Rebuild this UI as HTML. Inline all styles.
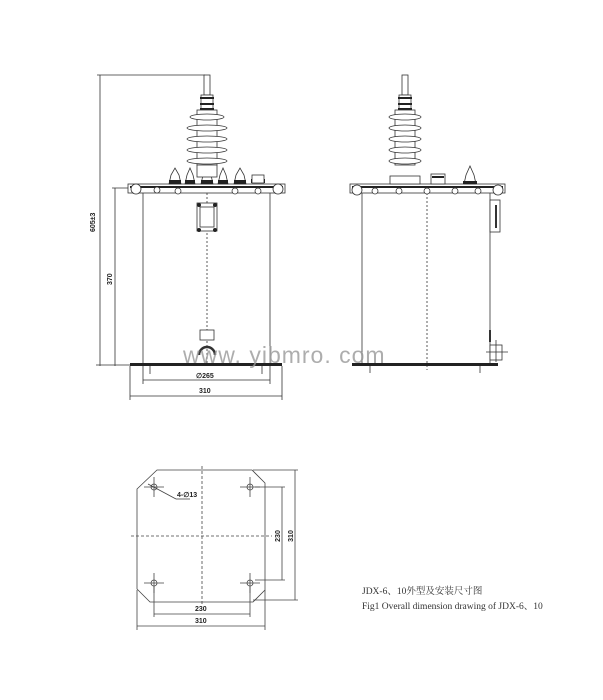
<!DOCTYPE html>
<html><head><meta charset="utf-8"><style>body{margin:0;background:#fff}svg{display:block}</style></head><body>
<svg width="603" height="700" viewBox="0 0 603 700" xmlns="http://www.w3.org/2000/svg" font-family="Liberation Sans, sans-serif">
<rect width="603" height="700" fill="#fff"/>
<g id="left" stroke="#333" fill="none" stroke-width="0.8">
 <line x1="100" y1="75" x2="100" y2="366"/><line x1="97" y1="75" x2="205" y2="75"/>
 <line x1="115" y1="188" x2="115" y2="366"/><line x1="112" y1="188" x2="130" y2="188"/>
 <line x1="96" y1="365" x2="130" y2="365"/>
 <line x1="143" y1="366" x2="143" y2="384"/><line x1="270" y1="366" x2="270" y2="384"/>
 <line x1="143" y1="380" x2="270" y2="380"/>
 <line x1="130" y1="366" x2="130" y2="400"/><line x1="282" y1="366" x2="282" y2="400"/>
 <line x1="130" y1="396" x2="282" y2="396"/>
 <line x1="143" y1="193" x2="143" y2="364"/><line x1="270" y1="193" x2="270" y2="364"/>
 <line x1="207" y1="193" x2="207" y2="364" stroke-dasharray="2,2"/>
 <rect x="128" y="184" width="157" height="9" fill="#fff"/>
 <rect x="130" y="186" width="153" height="2" fill="#222" stroke="none"/>
 <line x1="150" y1="366" x2="150" y2="374"/><line x1="262" y1="366" x2="262" y2="374"/>
 <g fill="#fff"><circle cx="136" cy="189" r="5"/><circle cx="278" cy="189" r="5"/><circle cx="157" cy="190" r="3"/><circle cx="178" cy="191" r="3"/><circle cx="235" cy="191" r="3"/><circle cx="258" cy="191" r="3"/></g>
 <g fill="#fff">
  <path d="M169 184 L171 175 L175 168 L179 175 L181 184 Z"/><path d="M185 184 L187 175 L190 168 L193 175 L195 184 Z"/>
  <path d="M201 184 L203 175 L207 168 L211 175 L213 184 Z"/><path d="M218 184 L220 175 L223 168 L226 175 L228 184 Z"/>
  <path d="M234 184 L236 175 L240 168 L244 175 L246 184 Z"/>
 </g>
 <g fill="#222" stroke="none"><rect x="169" y="180" width="12" height="4"/><rect x="185" y="180" width="10" height="4"/><rect x="201" y="180" width="12" height="4"/><rect x="218" y="180" width="10" height="4"/><rect x="234" y="180" width="12" height="4"/><rect x="251" y="179" width="14" height="4"/></g>
 <rect x="252" y="175" width="12" height="8" fill="#fff"/>
 <rect x="204" y="75" width="6" height="20" fill="#fff"/>
 <rect x="201" y="95" width="12" height="15" fill="#fff"/>
 <g fill="#222" stroke="none"><rect x="200" y="97" width="14" height="2"/><rect x="200" y="103" width="14" height="2"/><rect x="200" y="108" width="14" height="2"/></g>
 <rect x="197" y="110" width="20" height="55" fill="#fff"/>
 <g fill="#fff"><ellipse cx="207" cy="117" rx="17" ry="3"/><ellipse cx="207" cy="128" rx="20" ry="3"/><ellipse cx="207" cy="139" rx="20" ry="3"/><ellipse cx="207" cy="150" rx="20" ry="3"/><ellipse cx="207" cy="161" rx="20" ry="3"/></g>
 <rect x="197" y="165" width="20" height="12" fill="#fff"/>
 <rect x="197" y="203" width="20" height="28" fill="#fff"/><rect x="200" y="207" width="14" height="20"/>
 <g fill="#222" stroke="none"><circle cx="199" cy="205" r="2"/><circle cx="215" cy="205" r="2"/><circle cx="199" cy="230" r="2"/><circle cx="215" cy="230" r="2"/></g>
 <rect x="200" y="330" width="14" height="10" fill="#fff"/>
 <path d="M199 355 A8 8 0 0 1 215 355" stroke-width="2.5"/>
</g>
<rect x="130" y="363" width="152" height="3" fill="#222"/>
<g font-size="7" fill="#222" font-weight="bold">
 <text x="95" y="232" transform="rotate(-90 95 232)">605±3</text>
 <text x="112" y="285" transform="rotate(-90 112 285)">370</text>
 <text x="196" y="378">∅265</text>
 <text x="199" y="393">310</text>
</g>
<g stroke="#333" fill="none" stroke-width="0.8">
 <line x1="362" y1="193" x2="362" y2="364"/><line x1="490" y1="193" x2="490" y2="364"/>
 <line x1="427" y1="193" x2="427" y2="370" stroke-dasharray="2,2"/>
 <rect x="350" y="184" width="155" height="9" fill="#fff"/>
 <rect x="352" y="186" width="151" height="2" fill="#222" stroke="none"/>
 <g fill="#fff"><circle cx="357" cy="190" r="5"/><circle cx="498" cy="190" r="5"/><circle cx="375" cy="191" r="3"/><circle cx="399" cy="191" r="3"/><circle cx="427" cy="191" r="3"/><circle cx="455" cy="191" r="3"/><circle cx="478" cy="191" r="3"/></g>
 <rect x="402" y="75" width="6" height="20" fill="#fff"/>
 <rect x="399" y="95" width="12" height="15" fill="#fff"/>
 <g fill="#222" stroke="none"><rect x="398" y="97" width="14" height="2"/><rect x="398" y="103" width="14" height="2"/><rect x="398" y="108" width="14" height="2"/></g>
 <rect x="395" y="110" width="20" height="55" fill="#fff"/>
 <g fill="#fff"><ellipse cx="405" cy="117" rx="16" ry="3"/><ellipse cx="405" cy="128" rx="16" ry="3"/><ellipse cx="405" cy="139" rx="16" ry="3"/><ellipse cx="405" cy="150" rx="16" ry="3"/><ellipse cx="405" cy="161" rx="16" ry="3"/></g>
 <rect x="390" y="176" width="30" height="8" fill="#fff"/>
 <rect x="431" y="174" width="14" height="10" fill="#fff"/><rect x="432" y="176" width="12" height="2" fill="#222" stroke="none"/>
 <path d="M464 184 L466 175 L470 166 L474 175 L476 184 Z" fill="#fff"/><rect x="463" y="181" width="14" height="3" fill="#222" stroke="none"/>
 <rect x="490" y="200" width="10" height="32" fill="#fff"/><line x1="496" y1="205" x2="496" y2="228" stroke-width="2"/>
 <line x1="490" y1="330" x2="490" y2="342" stroke-width="2"/>
 <rect x="490" y="345" width="12" height="15" fill="#fff"/><line x1="496" y1="340" x2="496" y2="362"/><line x1="486" y1="352" x2="508" y2="352"/>
 <line x1="370" y1="366" x2="370" y2="373"/><line x1="480" y1="366" x2="480" y2="373"/>
</g>
<rect x="352" y="363" width="146" height="3" fill="#222"/>
<text x="183" y="363" font-size="23" fill="#999" opacity="0.8" letter-spacing="1">www. yibmro. com</text>
<g stroke="#444" fill="none" stroke-width="0.8">
 <path d="M157 470 L252 470 L265 483 L265 590 L253 602 L150 602 L137 589 L137 489 Z"/>
 <line x1="202" y1="466" x2="202" y2="606" stroke-dasharray="3,2"/>
 <line x1="131" y1="536" x2="272" y2="536" stroke-dasharray="3,2"/>
 <g fill="#fff">
  <circle cx="154" cy="487" r="3"/><circle cx="250" cy="487" r="3"/><circle cx="154" cy="583" r="3"/><circle cx="250" cy="583" r="3"/>
 </g>
 <path d="M144 487h20M154 477v20M240 487h20M250 477v20M144 583h20M154 573v20M240 583h20M250 573v20"/>
 <line x1="148" y1="484" x2="176" y2="499"/><line x1="176" y1="499" x2="190" y2="499"/>
 <line x1="253" y1="470" x2="298" y2="470"/><line x1="253" y1="600" x2="298" y2="600"/>
 <line x1="295" y1="470" x2="295" y2="600"/>
 <line x1="255" y1="487" x2="285" y2="487"/><line x1="255" y1="580" x2="285" y2="580"/>
 <line x1="282" y1="487" x2="282" y2="580"/>
 <line x1="154" y1="586" x2="154" y2="617"/><line x1="250" y1="586" x2="250" y2="617"/>
 <line x1="154" y1="614" x2="250" y2="614"/>
 <line x1="137" y1="590" x2="137" y2="630"/><line x1="265" y1="590" x2="265" y2="630"/>
 <line x1="137" y1="626" x2="265" y2="626"/>
</g>
<g font-size="7" fill="#222" font-weight="bold">
 <text x="177" y="497">4-∅13</text>
 <text x="195" y="611">230</text>
 <text x="195" y="623">310</text>
 <text x="280" y="536" transform="rotate(-90 280 536)" text-anchor="middle">230</text>
 <text x="293" y="536" transform="rotate(-90 293 536)" text-anchor="middle">310</text>
</g>
<g font-family="Liberation Serif, Noto Serif CJK SC, serif" font-size="9.5" fill="#333">
 <text x="362" y="594">JDX-6、10外型及安装尺寸图</text>
 <text x="362" y="609">Fig1 Overall dimension drawing of JDX-6、10</text>
</g>
</svg>
</body></html>
